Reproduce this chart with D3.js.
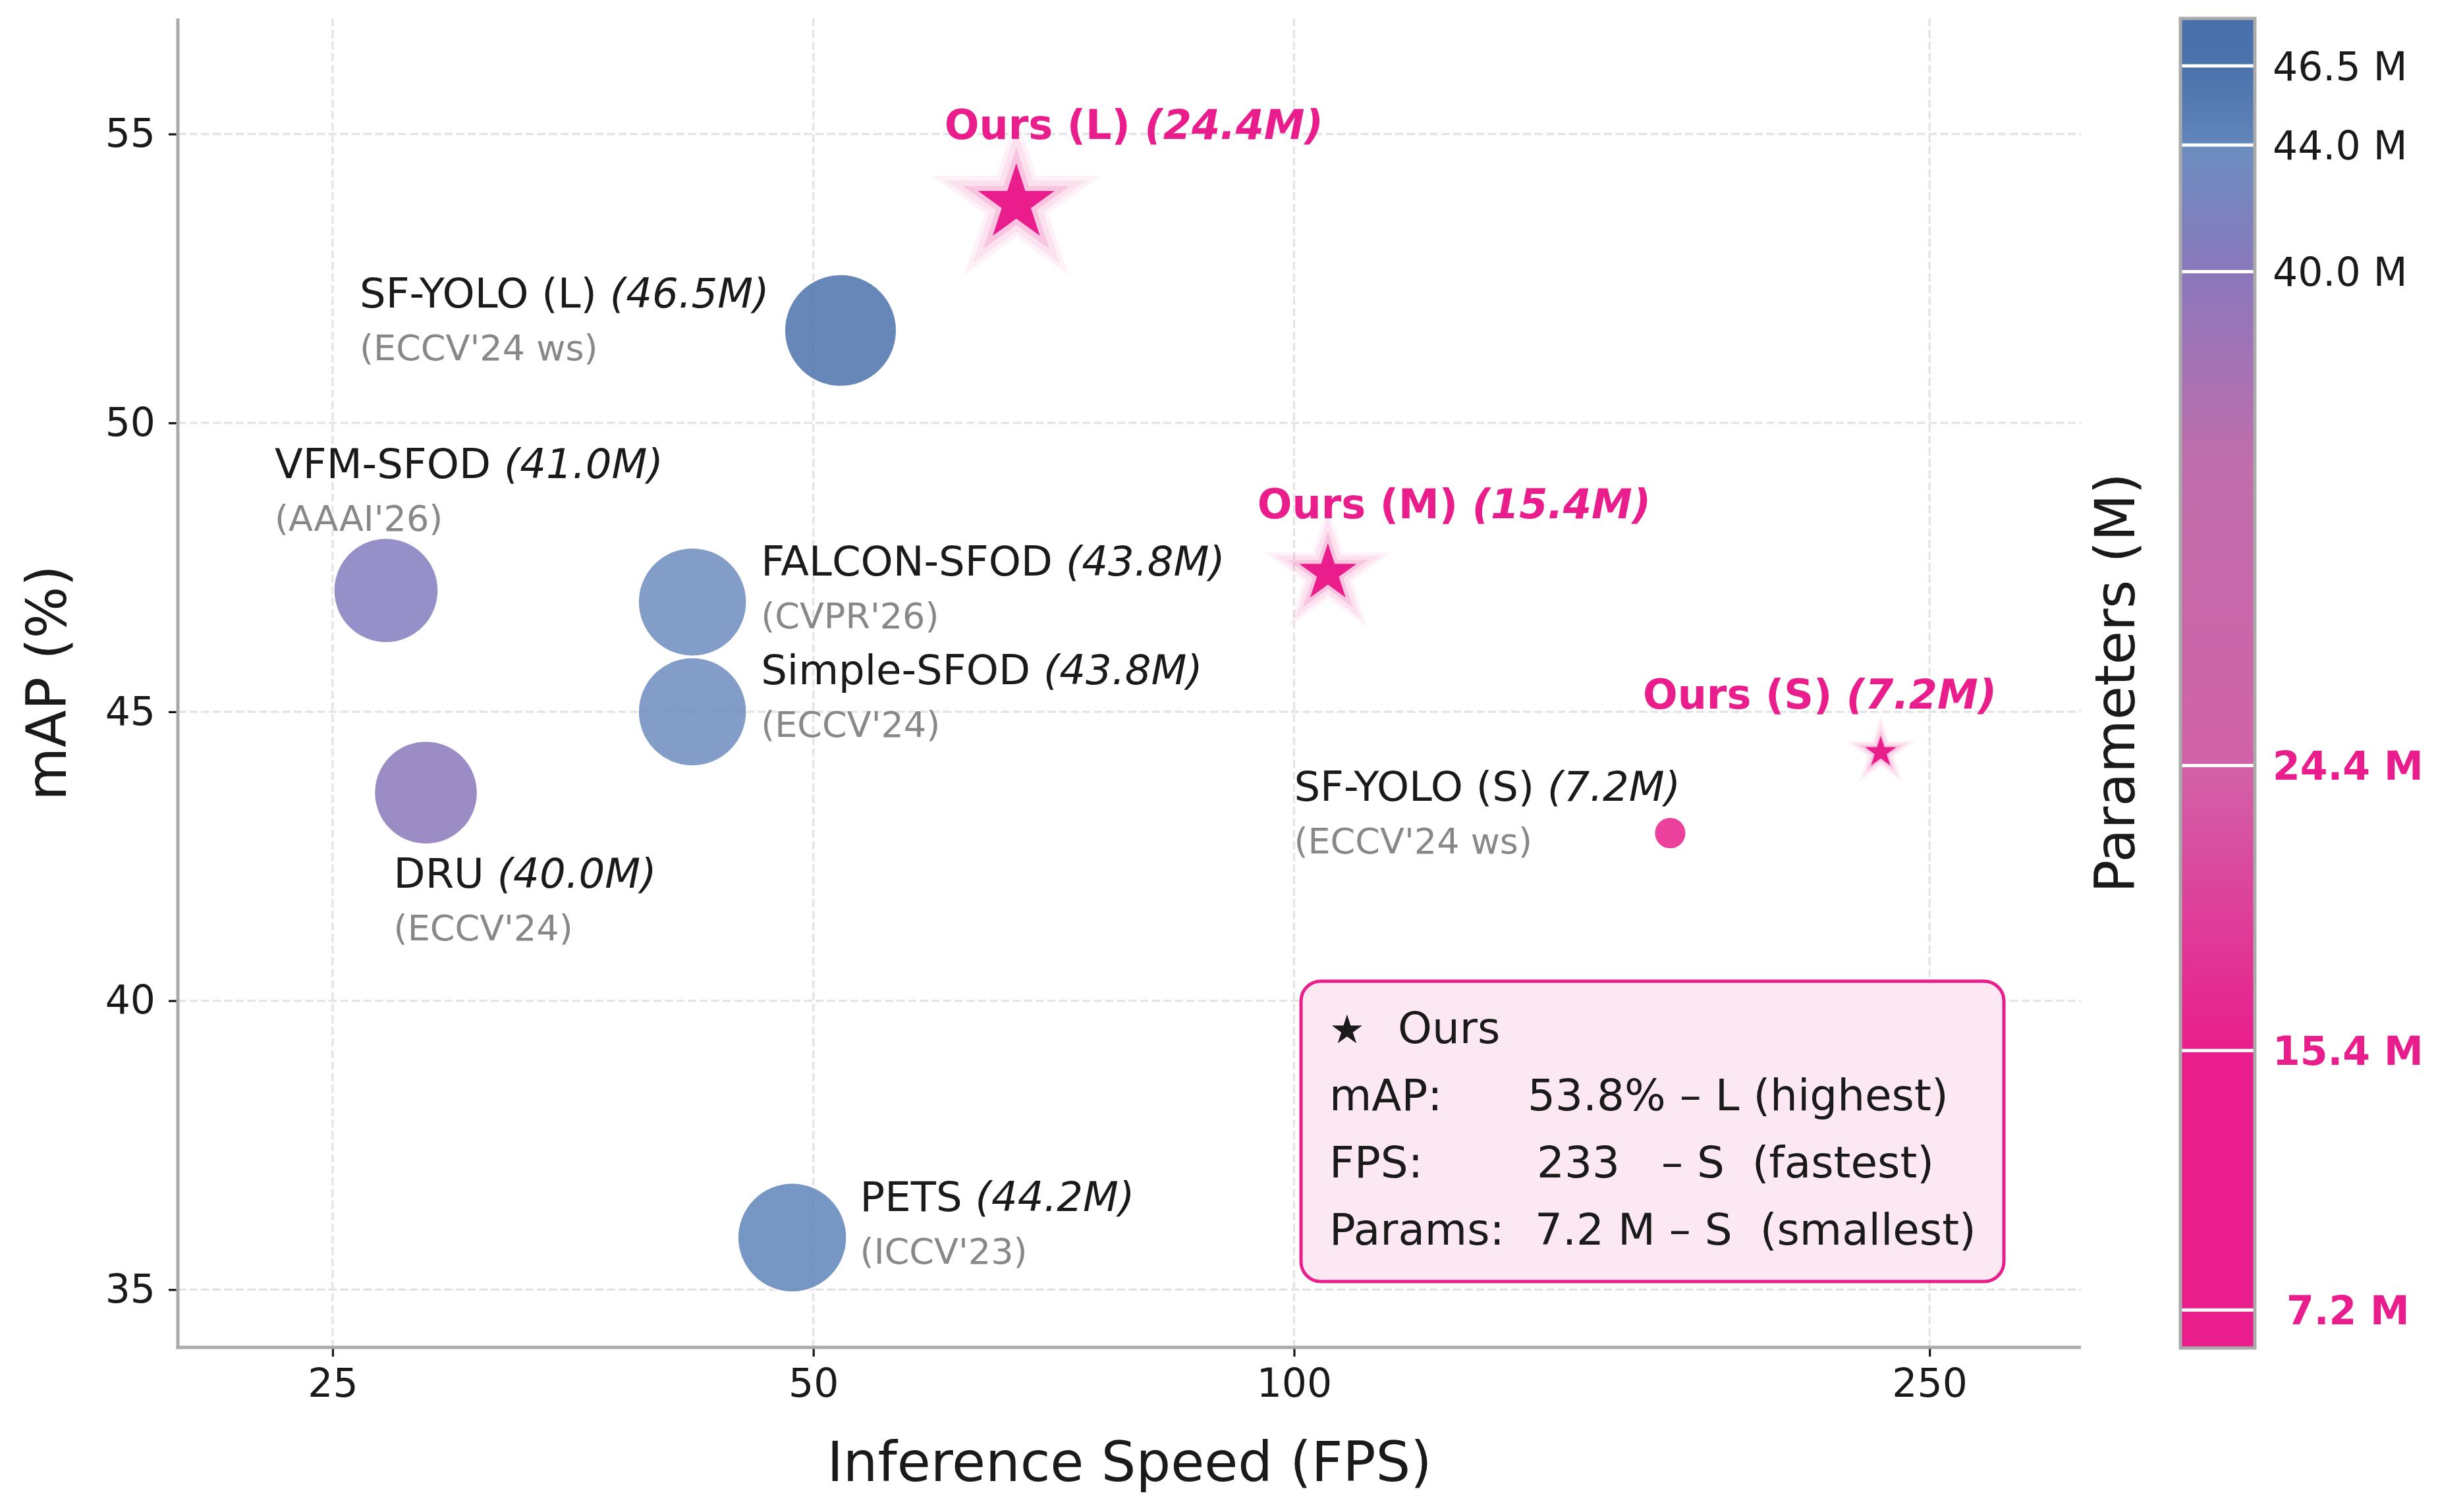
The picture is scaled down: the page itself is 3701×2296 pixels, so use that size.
<!DOCTYPE html>
<html>
<head>
<meta charset="utf-8">
<script src="https://cdn.jsdelivr.net/npm/d3@7"></script>
<style>
  body { margin: 0; background: #fff; }
  text { font-family: "DejaVu Sans", sans-serif; }
</style>
</head>
<body>
<script>
// baselines
let methods = ["SF-YOLO (L)", "VFM-SFOD", "FALCON-SFOD", "Simple-SFOD", "DRU", "PETS", "SF-YOLO (S)"]
let venues = ["(ECCV'24 ws)", "(AAAI'26)", "(CVPR'26)", "(ECCV'24)", "(ECCV'24)", "(ICCV'23)", "(ECCV'24 ws)"]
let fps = [52, 27, 42, 42, 28.6, 48.5, 172]
let mAP = [51.6, 47.1, 46.9, 45.0, 43.6, 35.9, 42.9]
let params = [46.5, 41.0, 43.8, 43.8, 40.0, 44.2, 7.2]

// nos modèles
let oursNames = ["Ours (L)", "Ours (M)", "Ours (S)"]
let oursFps = [67, 105, 233]
let oursMap = [53.8, 47.4, 44.3]
let oursParams = [24.4, 15.4, 7.2]

let xTicks = [25, 50, 100, 250]
let yTicks = [35, 40, 45, 50, 55]
let cbTicks = [7.2, 15.4, 24.4, 40.0, 44.0, 46.5]

let legendLabels = ["mAP:", "FPS:", "Params:"]
let legendValues = ["53.8% \u2013 L (highest)", "233   \u2013 S  (fastest)", "7.2 M \u2013 S  (smallest)"]

// colormap (params -> couleur)
let cmapStops = [6, 15.4, 24.4, 34, 40, 43.9, 44.2, 46.5, 48]
let cmapColors = ["#E91E8C", "#E91E8C", "#D262A8", "#C06EAC", "#8A78BC", "#6C8DC0", "#5E84B9", "#4C72AC", "#4A70AB"]

// décalages des étiquettes (px depuis le point)
let labelOffsets = [[-730, -35], [-169, -171], [104, -40], [104, -42], [-49, 144], [103, -40], [-571, -49]]
let oursOffsets = [[-109, -98], [-107, -83], [-361, -66]]

const PINK = "#E91E8C"
const DARK = "#1a1a1a"

let W = 3701, H = 2296
let mLeft = 270, mRight = 3159, mTop = 28, mBottom = 2046

let svg = d3.select("body")
    .append("svg")
    .attr("width", W)
    .attr("height", H)

let x = d3.scaleLog().domain([20, 311]).range([mLeft, mRight])
let y = d3.scaleLinear().domain([34, 57]).range([mBottom, mTop])
let color = d3.scaleLinear().domain(cmapStops).range(cmapColors).interpolate(d3.interpolateRgb)
let rCircle = d3.scaleLinear().domain([7.2, 46.5]).range([24 * 24, 85 * 85])
let rStar = d3.scaleLinear().domain([7.2, 24.4]).range([25 * 25, 61 * 61])

// grille
let grid = svg.append("g")
grid.selectAll("line.gx")
    .data(xTicks)
    .enter()
    .append("line")
    .attr("x1", d => x(d)).attr("x2", d => x(d))
    .attr("y1", mTop).attr("y2", mBottom)
grid.selectAll("line.gy")
    .data(yTicks)
    .enter()
    .append("line")
    .attr("x1", mLeft).attr("x2", mRight)
    .attr("y1", d => y(d)).attr("y2", d => y(d))
grid.selectAll("line")
    .attr("stroke", "#e4e4e4")
    .attr("stroke-width", 3.3)
    .attr("stroke-dasharray", "12.3,5.3")

// axes
let xAxis = svg.append("g")
    .attr("transform", "translate(0," + mBottom + ")")
    .call(d3.axisBottom(x).tickValues(xTicks).tickFormat(d3.format("d")).tickSize(14).tickPadding(18))
let yAxis = svg.append("g")
    .attr("transform", "translate(" + mLeft + ",0)")
    .call(d3.axisLeft(y).tickValues(yTicks).tickSize(14).tickPadding(20))

;[xAxis, yAxis].forEach(a => {
    a.select(".domain").remove()
    a.selectAll(".tick line").attr("stroke", DARK).attr("stroke-width", 3.3)
    a.selectAll(".tick text")
        .attr("fill", DARK)
        .style("font-size", "60px")
        .style("font-family", "DejaVu Sans")
})

svg.append("line")
    .attr("x1", mLeft).attr("x2", mLeft).attr("y1", mTop).attr("y2", mBottom + 2.5)
    .attr("stroke", "#aaaaaa").attr("stroke-width", 5)
svg.append("line")
    .attr("x1", mLeft - 2.5).attr("x2", mRight).attr("y1", mBottom).attr("y2", mBottom)
    .attr("stroke", "#aaaaaa").attr("stroke-width", 5)

svg.append("text")
    .attr("x", (mLeft + mRight) / 2)
    .attr("y", 2249)
    .attr("text-anchor", "middle")
    .attr("fill", DARK)
    .style("font-size", "83px")
    .text("Inference Speed (FPS)")

svg.append("text")
    .attr("transform", "translate(100," + (mTop + mBottom) / 2 + ") rotate(-90)")
    .attr("text-anchor", "middle")
    .attr("fill", DARK)
    .style("font-size", "83px")
    .text("mAP (%)")

// cercles des baselines
let baseData = methods.map((m, i) => ({
    name: m, venue: venues[i], fps: fps[i], map: mAP[i], params: params[i], off: labelOffsets[i]
}))

svg.selectAll("circle.base")
    .data(baseData)
    .enter()
    .append("circle")
    .attr("cx", d => x(d.fps))
    .attr("cy", d => y(d.map))
    .attr("r", d => Math.sqrt(rCircle(d.params)))
    .attr("fill", d => color(d.params))
    .attr("fill-opacity", 0.85)
    .attr("stroke", "#ffffff")
    .attr("stroke-width", 2)

baseData.forEach(d => {
    let px = x(d.fps) + d.off[0]
    let py = y(d.map) + d.off[1]
    let t = svg.append("text")
        .attr("x", px).attr("y", py)
        .attr("fill", DARK)
        .style("font-size", "62.5px")
    t.append("tspan").text(d.name + " ")
    t.append("tspan").style("font-style", "italic").text("(" + d.params.toFixed(1) + "M)")
    svg.append("text")
        .attr("x", px).attr("y", py + 80)
        .attr("fill", "#888888")
        .style("font-size", "54px")
        .text(d.venue)
})

// étoiles
function starPath(R) {
    let pts = []
    for (let k = 0; k < 10; k++) {
        let r = k % 2 == 0 ? R : R * 0.381966
        let a = -Math.PI / 2 + k * Math.PI / 5
        pts.push([r * Math.cos(a), r * Math.sin(a)])
    }
    return d3.line()(pts) + "Z"
}

let oursData = oursNames.map((n, i) => ({
    name: n, fps: oursFps[i], map: oursMap[i], params: oursParams[i], off: oursOffsets[i]
}))

let glow = [[2.2, 0.06], [1.85, 0.075], [1.4, 0.15]]

oursData.forEach(d => {
    let cx = x(d.fps), cy = y(d.map)
    let R = Math.sqrt(rStar(d.params))
    let g = svg.append("g").attr("transform", "translate(" + cx + "," + cy + ")")
    glow.forEach(gl => {
        g.append("path")
            .attr("d", starPath(R * gl[0]))
            .attr("fill", PINK)
            .attr("fill-opacity", gl[1])
    })
    g.append("path")
        .attr("d", starPath(R))
        .attr("fill", PINK)

    let t = svg.append("text")
        .attr("x", cx + d.off[0]).attr("y", cy + d.off[1])
        .attr("fill", PINK)
        .style("font-size", "62px")
        .style("font-weight", "bold")
    t.append("tspan").text(d.name + " ")
    t.append("tspan").style("font-style", "italic").text("(" + d.params.toFixed(1) + "M)")
})

// encadré
let lg = svg.append("g")
lg.append("rect")
    .attr("x", 1975).attr("y", 1490)
    .attr("width", 1067).attr("height", 456)
    .attr("rx", 30).attr("ry", 30)
    .attr("fill", "#FCE8F3")
    .attr("stroke", PINK)
    .attr("stroke-width", 5)
lg.append("text")
    .attr("x", 2018).attr("y", 1584)
    .attr("fill", DARK)
    .style("font-size", "60px")
    .text("\u2605")
lg.append("text")
    .attr("x", 2122).attr("y", 1584)
    .attr("fill", DARK)
    .style("font-size", "66px")
    .text("Ours")
let valueX = [2319, 2333, 2330]
legendLabels.forEach((l, i) => {
    lg.append("text")
        .attr("x", 2018).attr("y", 1686 + i * 102)
        .attr("fill", DARK)
        .style("font-size", "66px")
        .text(l)
    lg.append("text")
        .attr("x", valueX[i]).attr("y", 1686 + i * 102)
        .attr("fill", DARK)
        .style("font-size", "66px")
        .style("white-space", "pre")
        .text(legendValues[i])
})

// barre de couleur
let cb = d3.scaleLinear().domain([6, 48]).range([2047, 28])
let defs = svg.append("defs")
let grad = defs.append("linearGradient")
    .attr("id", "cbgrad")
    .attr("x1", 0).attr("y1", 1).attr("x2", 0).attr("y2", 0)
grad.selectAll("stop")
    .data(cmapStops)
    .enter()
    .append("stop")
    .attr("offset", d => (d - 6) / 42)
    .attr("stop-color", d => color(d))

let cbX = 3310, cbW = 113
svg.append("rect")
    .attr("x", cbX).attr("y", cb(48))
    .attr("width", cbW).attr("height", cb(6) - cb(48))
    .attr("fill", "url(#cbgrad)")

svg.selectAll("line.cbtick")
    .data(cbTicks)
    .enter()
    .append("line")
    .attr("x1", cbX).attr("x2", cbX + cbW)
    .attr("y1", d => cb(d)).attr("y2", d => cb(d))
    .attr("stroke", "#ffffff")
    .attr("stroke-width", 5)

svg.append("rect")
    .attr("x", cbX).attr("y", cb(48))
    .attr("width", cbW).attr("height", cb(6) - cb(48))
    .attr("fill", "none")
    .attr("stroke", "#aaaaaa")
    .attr("stroke-width", 5)

svg.selectAll("text.cblab")
    .data(cbTicks)
    .enter()
    .append("text")
    .attr("x", 3450)
    .attr("y", d => cb(d))
    .attr("dy", "0.36em")
    .attr("fill", d => d < 30 ? PINK : DARK)
    .style("font-weight", d => d < 30 ? "bold" : "normal")
    .style("font-size", "60px")
    .style("white-space", "pre")
    .text(d => (d < 10 ? " " : "") + d.toFixed(1) + " M")

svg.append("text")
    .attr("transform", "translate(3240," + (mTop + mBottom) / 2 + ") rotate(-90)")
    .attr("text-anchor", "middle")
    .attr("fill", DARK)
    .style("font-size", "83px")
    .text("Parameters (M)")
</script>
</body>
</html>
